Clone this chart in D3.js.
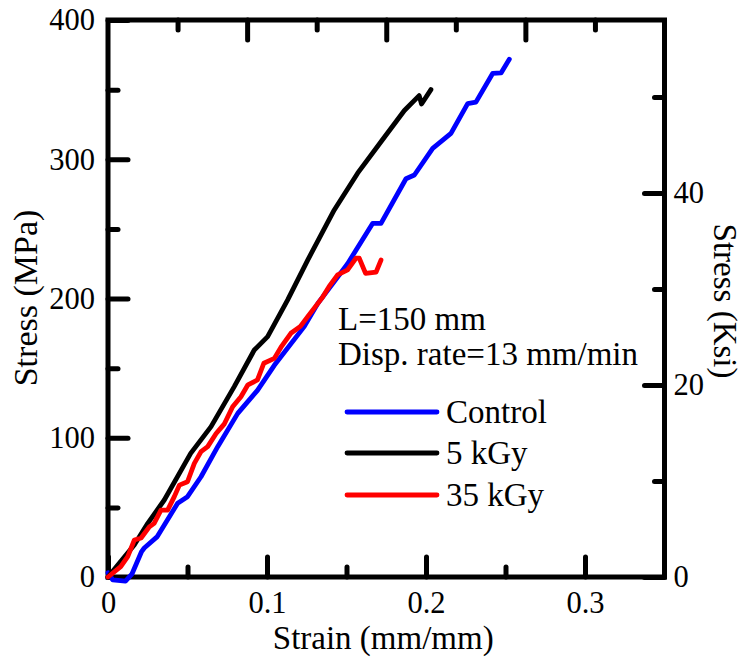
<!DOCTYPE html>
<html>
<head>
<meta charset="utf-8">
<script src="https://cdn.jsdelivr.net/npm/d3@7"></script>
<style>
  html, body { margin: 0; padding: 0; background: #fff; }
  svg { display: block; }
  text { font-family: "Liberation Serif", "Times New Roman", serif; fill: #000; }
</style>
</head>
<body>
<svg id="chart" width="743" height="661"></svg>
<script>
// ---- data ----
const controlStrain = [0, 0.003, 0.011, 0.015, 0.021, 0.0228, 0.031, 0.0438, 0.050, 0.0585, 0.069, 0.0816, 0.094, 0.1046, 0.1235, 0.132, 0.1507, 0.1665, 0.1717, 0.1874, 0.1927, 0.2042, 0.2157, 0.2262, 0.2314, 0.242, 0.2472, 0.2524];
const controlStress = [3, -2, -3, 2, 18, 20.8, 29, 53, 57.7, 72, 93.6, 117.5, 134, 152, 180, 196.5, 225, 254, 254, 286, 288.7, 307.8, 318.6, 340, 341, 361.7, 362, 371.8];

const kGy5Strain = [0, 0.005, 0.0165, 0.025, 0.0354, 0.052, 0.0648, 0.0794, 0.092, 0.1004, 0.113, 0.1256, 0.1423, 0.157, 0.1717, 0.1864, 0.1957, 0.1972, 0.2031];
const kGy5Stress = [0, 7, 23, 38.5, 55.3, 88.8, 108, 136.7, 163, 172.6, 199, 227.6, 263.6, 290, 312.6, 335, 345.7, 339.7, 350];

const kGy35Strain = [0, 0.008, 0.0124, 0.0166, 0.0208, 0.026, 0.029, 0.0333, 0.0375, 0.0417, 0.0449, 0.050, 0.0543, 0.0585, 0.0627, 0.068, 0.0732, 0.0784, 0.0836, 0.088, 0.094, 0.098, 0.1046, 0.1088, 0.115, 0.121, 0.1256, 0.132, 0.135, 0.139, 0.1444, 0.1507, 0.156, 0.158, 0.162, 0.1686, 0.1717];
const kGy35Stress = [0, 7.4, 14.6, 26.6, 28, 36, 38.5, 48, 48, 57.7, 66, 68.4, 81.6, 90, 93.6, 103, 110, 122.3, 129.5, 138, 141.5, 153.5, 157, 165, 175, 180, 187, 196.5, 201, 208.5, 217, 220.5, 229, 229, 218, 219, 227.6];

const seriesNames = ["Control", "5 kGy", "35 kGy"];
const seriesColors = ["#0000ff", "#000000", "#ff0000"];

const xMajorTicks = [0, 0.1, 0.2, 0.3];
const xMinorTicks = [0.05, 0.15, 0.25];
const yMajorTicks = [0, 100, 200, 300, 400];
const yMinorTicks = [50, 150, 250, 350];
const ksiMajorTicks = [0, 20, 40];
const ksiMinorTicks = [10, 30, 50];
const topMajorTicks = [1, 2, 3];
const topMinorTicks = [0.5, 1.5, 2.5, 3.5];

const annotations = ["L=150 mm", "Disp. rate=13 mm/min"];

// ---- layout ----
const svg = d3.select("#chart");
const L = 108, R = 664.5, T = 20, B = 577;
const x = d3.scaleLinear().domain([0, 0.35]).range([L, R]);
const y = d3.scaleLinear().domain([0, 400]).range([B, T]);
const yKsi = d3.scaleLinear().domain([0, 400 / 6.895]).range([B, T]);
const xTop = d3.scaleLinear().domain([0, 4]).range([L, R]);

const tickFont = 30.5;
const axisW = 5;

function styleAxis(g) {
  g.select(".domain").remove();
  g.selectAll(".tick line").attr("stroke", "#000").attr("stroke-width", axisW).attr("stroke-linecap", "round");
  g.selectAll(".tick text").style("font-family", "'Liberation Serif', 'Times New Roman', serif").style("font-size", tickFont + "px").attr("fill", "#000");
}

// bottom axis
svg.append("g").attr("transform", `translate(0,${B})`)
  .call(d3.axisBottom(x).tickValues(xMajorTicks).tickSize(-20).tickPadding(36).tickFormat(d => d === 0 ? "0" : d3.format(".1f")(d)))
  .call(styleAxis)
  .selectAll(".tick text").attr("dy", "0");
svg.append("g").attr("transform", `translate(0,${B})`)
  .call(d3.axisBottom(x).tickValues(xMinorTicks).tickSize(-10).tickFormat(""))
  .call(styleAxis);

// top axis
svg.append("g").attr("transform", `translate(0,${T})`)
  .call(d3.axisTop(xTop).tickValues(topMajorTicks).tickSize(-20).tickFormat(""))
  .call(styleAxis);
svg.append("g").attr("transform", `translate(0,${T})`)
  .call(d3.axisTop(xTop).tickValues(topMinorTicks).tickSize(-10).tickFormat(""))
  .call(styleAxis);

// left axis
svg.append("g").attr("transform", `translate(${L},0)`)
  .call(d3.axisLeft(y).tickValues(yMajorTicks).tickSize(-20).tickPadding(13).tickFormat(d3.format("d")))
  .call(styleAxis);
svg.append("g").attr("transform", `translate(${L},0)`)
  .call(d3.axisLeft(y).tickValues(yMinorTicks).tickSize(-10).tickFormat(""))
  .call(styleAxis);

// right axis (ksi)
svg.append("g").attr("transform", `translate(${R},0)`)
  .call(d3.axisRight(yKsi).tickValues(ksiMajorTicks).tickSize(-20).tickPadding(9).tickFormat(d3.format("d")))
  .call(styleAxis);
svg.append("g").attr("transform", `translate(${R},0)`)
  .call(d3.axisRight(yKsi).tickValues(ksiMinorTicks).tickSize(-10).tickFormat(""))
  .call(styleAxis);

// frame
svg.append("rect").attr("x", L).attr("y", T).attr("width", R - L).attr("height", B - T)
  .attr("fill", "none").attr("stroke", "#000").attr("stroke-width", axisW);

// curves
const allSeries = [
  controlStrain.map((s, i) => [s, controlStress[i]]),
  kGy5Strain.map((s, i) => [s, kGy5Stress[i]]),
  kGy35Strain.map((s, i) => [s, kGy35Stress[i]])
];
const line = d3.line().x(d => x(d[0])).y(d => y(d[1]));
allSeries.forEach((data, i) => {
  svg.append("path").datum(data)
    .attr("d", line)
    .attr("fill", "none")
    .attr("stroke", seriesColors[i])
    .attr("stroke-width", 4.8)
    .attr("stroke-linejoin", "round")
    .attr("stroke-linecap", "round");
});

// axis titles
svg.append("text").attr("x", (L + R) / 2 - 3).attr("y", 649)
  .attr("text-anchor", "middle").style("font-size", "33px").text("Strain (mm/mm)");
svg.append("text").attr("transform", `translate(37,298) rotate(-90)`)
  .attr("text-anchor", "middle").style("font-size", "34px").text("Stress (MPa)");
svg.append("text").attr("transform", `translate(714,301) rotate(90)`)
  .attr("text-anchor", "middle").style("font-size", "33px").text("Stress (Ksi)");

// annotation
annotations.forEach((t, i) => {
  svg.append("text").attr("x", 338).attr("y", 330 + i * 35)
    .style("font-size", "33px").text(t);
});

// legend
const legendY = [412, 453, 495];
seriesNames.forEach((n, i) => {
  svg.append("line").attr("x1", 347).attr("x2", 437).attr("y1", legendY[i]).attr("y2", legendY[i])
    .attr("stroke", seriesColors[i]).attr("stroke-width", 4.8).attr("stroke-linecap", "round");
  svg.append("text").attr("x", 446).attr("y", legendY[i] + 11)
    .style("font-size", "33px").text(n);
});
</script>
</body>
</html>
